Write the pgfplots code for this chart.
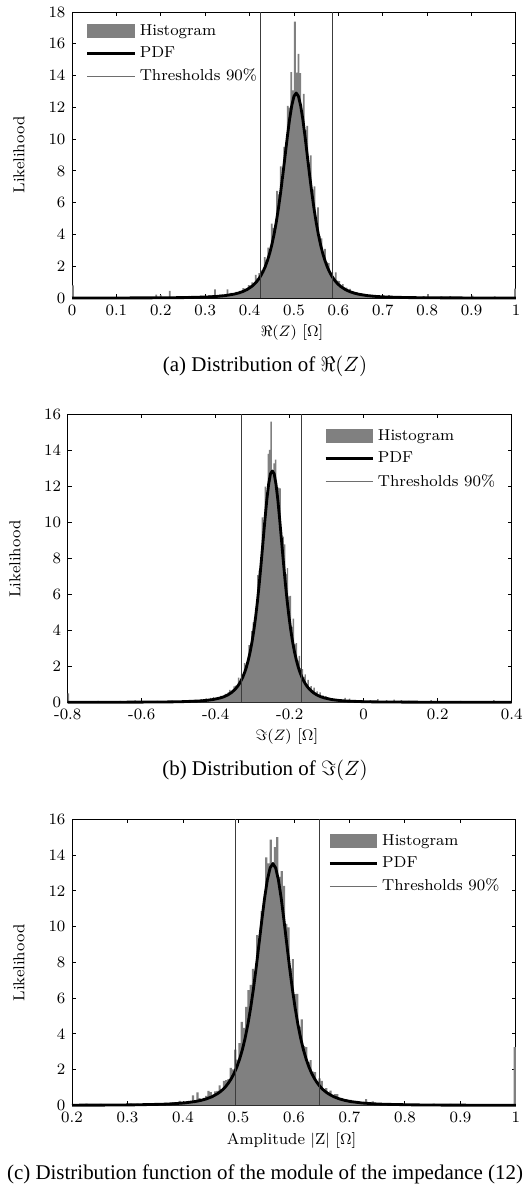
\documentclass[border=0pt]{standalone}
\usepackage{fontspec}
\usepackage{pgfplots}
\pgfplotsset{compat=1.18}
\newfontfamily\capfont{Liberation Serif}
\definecolor{histgray}{RGB}{128,128,128}
\definecolor{thrgray}{RGB}{60,60,60}
\definecolor{thrleg}{RGB}{110,110,110}
\newcommand{\smallf}{\fontsize{8.4}{10}\selectfont}
\newcommand{\capf}{\capfont\fontsize{11.1}{13}\selectfont}

\pgfplotsset{
  myaxis/.style={
    scale only axis, width=235.3pt, height=151.6pt,
    axis line style={line width=0.5pt},
    tick style={line width=0.5pt, black},
    major tick length=2.2pt,
    tick align=inside,
    tick label style={font=\smallf},
    /pgf/number format/assume math mode=true,
    clip=false,
    legend cell align=left,
    legend style={draw=none, fill=none, font=\smallf, row sep=0.6pt},
  },
  histstyle/.style={const plot, fill=histgray, draw=none,
    legend image code/.code={\fill[histgray] (0pt,-3.8pt) rectangle (25pt,3.8pt);}},
  pdfstyle/.style={black, line width=1.5pt, line join=round,
    legend image code/.code={\draw[black, line width=1.5pt] (0pt,0pt) -- (25pt,0pt);}},
  thrstyle/.style={thrgray, line width=0.5pt,
    legend image code/.code={\draw[thrleg, line width=0.6pt] (0pt,0pt) -- (25pt,0pt);}},
}

\pgfplotstableread{
x y
0.000 0.80
0.004 0.00
0.188 0.22
0.192 0.00
0.198 0.18
0.202 0.00
0.218 0.45
0.222 0.00
0.250 0.10
0.254 0.04
0.262 0.14
0.266 0.05
0.276 0.12
0.280 0.06
0.288 0.13
0.292 0.07
0.300 0.11
0.308 0.16
0.316 0.12
0.320 0.55
0.324 0.15
0.332 0.22
0.340 0.18
0.348 0.55
0.352 0.25
0.356 0.32
0.360 0.29
0.364 0.27
0.368 0.39
0.372 0.35
0.376 0.45
0.380 0.37
0.384 0.62
0.388 0.57
0.392 0.57
0.396 0.82
0.400 0.78
0.404 0.98
0.408 0.87
0.412 1.46
0.416 1.23
0.420 1.56
0.424 1.74
0.428 1.67
0.432 2.57
0.436 2.38
0.440 3.17
0.444 2.73
0.448 4.68
0.452 4.42
0.456 4.59
0.460 6.74
0.464 6.52
0.468 8.28
0.472 7.38
0.476 9.52
0.480 9.65
0.484 12.09
0.488 11.98
0.492 14.21
0.496 13.06
0.500 17.40
0.504 14.18
0.508 15.37
0.512 14.16
0.516 11.75
0.520 12.84
0.524 10.57
0.528 10.84
0.532 8.47
0.536 8.98
0.540 6.82
0.544 7.03
0.548 4.93
0.552 5.70
0.556 3.91
0.560 3.76
0.564 2.72
0.568 3.09
0.572 2.26
0.576 2.20
0.580 1.51
0.584 1.63
0.588 1.22
0.592 1.61
0.596 1.09
0.600 1.06
0.604 0.77
0.608 0.87
0.612 0.64
0.616 0.66
0.620 0.46
0.624 0.58
0.628 0.41
0.632 0.41
0.636 0.31
0.640 0.35
0.644 0.24
0.648 0.31
0.652 0.21
0.656 0.24
0.660 0.16
0.664 0.22
0.668 0.15
0.672 0.17
0.676 0.13
0.680 0.12
0.690 0.10
0.700 0.15
0.704 0.08
0.712 0.18
0.716 0.06
0.724 0.12
0.730 0.05
0.740 0.10
0.748 0.04
0.760 0.08
0.764 0.02
0.790 0.12
0.794 0.02
0.800 0.25
0.804 0.02
0.830 0.10
0.834 0.00
0.850 0.12
0.854 0.00
0.880 0.08
0.884 0.00
0.900 0.15
0.904 0.00
0.950 0.10
0.954 0.00
0.996 0.60
1.000 0.60
}\histA

\pgfplotstableread{
x y
0 0.002
0.105 0.005
0.205 0.015
0.255 0.029
0.305 0.068
0.325 0.100
0.345 0.153
0.365 0.245
0.375 0.315
0.385 0.411
0.395 0.545
0.405 0.733
0.41 0.855
0.415 1.00
0.42 1.18
0.425 1.39
0.43 1.65
0.435 1.96
0.44 2.34
0.445 2.79
0.45 3.34
0.455 3.99
0.46 4.76
0.465 5.65
0.47 6.66
0.475 7.78
0.48 8.96
0.485 10.14
0.49 11.23
0.495 12.11
0.5 12.70
0.505 12.90
0.51 12.70
0.515 12.11
0.52 11.23
0.525 10.14
0.53 8.96
0.535 7.78
0.54 6.66
0.545 5.65
0.55 4.76
0.555 3.99
0.56 3.34
0.565 2.79
0.57 2.34
0.575 1.96
0.58 1.65
0.585 1.39
0.59 1.18
0.595 1.00
0.6 0.855
0.605 0.733
0.615 0.545
0.625 0.411
0.635 0.315
0.645 0.245
0.665 0.153
0.685 0.100
0.705 0.068
0.755 0.029
0.805 0.015
0.905 0.005
1 0.002
}\pdfA

\pgfplotstableread{
x y
-0.800 0.50
-0.796 0.00
-0.720 0.08
-0.716 0.00
-0.660 0.08
-0.656 0.00
-0.620 0.10
-0.616 0.00
-0.560 0.08
-0.556 0.02
-0.520 0.09
-0.516 0.03
-0.480 0.10
-0.476 0.05
-0.460 0.14
-0.456 0.06
-0.440 0.18
-0.436 0.08
-0.428 0.22
-0.424 0.10
-0.416 0.25
-0.412 0.15
-0.408 0.28
-0.404 0.18
-0.400 0.21
-0.396 0.28
-0.392 0.23
-0.388 0.36
-0.384 0.33
-0.380 0.33
-0.376 0.47
-0.372 0.38
-0.368 0.55
-0.364 0.69
-0.360 0.60
-0.356 0.63
-0.352 0.88
-0.348 0.93
-0.344 0.82
-0.340 1.37
-0.336 1.12
-0.332 1.55
-0.328 1.36
-0.324 2.18
-0.320 2.08
-0.316 2.16
-0.312 3.17
-0.308 2.64
-0.304 3.96
-0.300 4.44
-0.296 4.63
-0.292 5.05
-0.288 7.07
-0.284 7.33
-0.280 7.48
-0.276 10.27
-0.272 9.86
-0.268 11.98
-0.264 11.49
-0.260 13.81
-0.256 14.03
-0.252 15.60
-0.248 12.90
-0.244 13.27
-0.240 13.49
-0.236 11.88
-0.232 11.93
-0.228 11.89
-0.224 9.14
-0.220 9.21
-0.216 8.77
-0.212 7.14
-0.208 7.45
-0.204 5.88
-0.200 5.91
-0.196 4.19
-0.192 4.65
-0.188 3.22
-0.184 3.29
-0.180 2.32
-0.176 2.58
-0.172 1.90
-0.168 1.84
-0.164 1.41
-0.160 1.55
-0.156 1.01
-0.152 1.25
-0.148 0.83
-0.144 0.90
-0.140 0.69
-0.136 0.81
-0.132 0.52
-0.128 0.60
-0.124 0.40
-0.120 0.55
-0.116 0.34
-0.112 0.38
-0.108 0.25
-0.104 0.34
-0.100 0.23
-0.096 0.26
-0.092 0.18
-0.088 0.23
-0.084 0.16
-0.080 0.15
-0.072 0.12
-0.064 0.16
-0.060 0.06
-0.052 0.25
-0.048 0.06
-0.040 0.20
-0.036 0.05
-0.020 0.10
-0.016 0.03
0.000 0.08
0.004 0.03
0.016 0.12
0.020 0.03
0.036 0.18
0.040 0.04
0.060 0.12
0.064 0.02
0.080 0.15
0.084 0.02
0.100 0.12
0.104 0.02
0.120 0.08
0.124 0.00
0.180 0.12
0.184 0.00
0.260 0.08
0.264 0.00
0.350 0.12
0.354 0.00
0.400 0.00
}\histB

\pgfplotstableread{
x y
-0.8 0.002
-0.647 0.005
-0.547 0.015
-0.497 0.029
-0.447 0.068
-0.427 0.100
-0.407 0.153
-0.387 0.245
-0.377 0.315
-0.367 0.411
-0.357 0.545
-0.347 0.733
-0.342 0.855
-0.337 1.00
-0.332 1.18
-0.327 1.39
-0.322 1.65
-0.317 1.96
-0.312 2.34
-0.307 2.79
-0.302 3.34
-0.297 3.99
-0.292 4.76
-0.287 5.65
-0.282 6.66
-0.277 7.78
-0.272 8.96
-0.267 10.14
-0.262 11.23
-0.257 12.11
-0.252 12.70
-0.247 12.85
-0.242 12.70
-0.237 12.11
-0.232 11.23
-0.227 10.14
-0.222 8.96
-0.217 7.78
-0.212 6.66
-0.207 5.65
-0.202 4.76
-0.197 3.99
-0.192 3.34
-0.187 2.79
-0.182 2.34
-0.177 1.96
-0.172 1.65
-0.167 1.39
-0.162 1.18
-0.157 1.00
-0.152 0.855
-0.147 0.733
-0.137 0.545
-0.127 0.411
-0.117 0.315
-0.107 0.245
-0.087 0.153
-0.067 0.100
-0.047 0.068
0.003 0.029
0.053 0.015
0.153 0.005
0.253 0.002
0.4 0.001
}\pdfB

\pgfplotstableread{
x y
0.200 0.00
0.224 0.10
0.228 0.00
0.250 0.08
0.254 0.00
0.300 0.06
0.304 0.10
0.308 0.03
0.316 0.10
0.320 0.05
0.330 0.12
0.334 0.04
0.344 0.10
0.348 0.04
0.360 0.08
0.368 0.14
0.372 0.06
0.380 0.18
0.384 0.10
0.392 0.25
0.396 0.12
0.400 0.20
0.404 0.10
0.408 0.22
0.412 0.15
0.416 0.55
0.420 0.29
0.424 0.72
0.428 0.40
0.432 0.32
0.436 0.41
0.440 0.53
0.444 0.80
0.448 0.73
0.452 0.58
0.456 0.78
0.460 0.80
0.464 1.12
0.468 0.89
0.472 1.36
0.476 1.41
0.480 1.46
0.484 2.09
0.488 2.01
0.492 3.11
0.496 2.55
0.500 3.48
0.504 4.66
0.508 4.33
0.512 5.50
0.516 6.44
0.520 6.74
0.524 7.63
0.528 7.32
0.532 9.52
0.536 9.27
0.540 10.86
0.544 11.31
0.548 13.87
0.552 13.53
0.556 14.86
0.560 13.60
0.564 14.44
0.568 15.00
0.572 12.78
0.576 13.10
0.580 12.28
0.584 10.15
0.588 9.95
0.592 7.66
0.596 8.17
0.600 6.22
0.604 6.23
0.608 4.38
0.612 4.81
0.616 3.31
0.620 3.25
0.624 2.40
0.628 2.53
0.632 1.89
0.636 1.86
0.640 1.32
0.644 1.50
0.648 1.37
0.652 0.90
0.656 0.96
0.660 0.73
0.664 0.82
0.668 0.51
0.672 0.62
0.676 0.62
0.680 0.39
0.684 0.40
0.688 0.29
0.692 0.34
0.696 0.27
0.700 0.30
0.704 0.21
0.708 0.23
0.712 0.16
0.716 0.18
0.720 0.12
0.728 0.35
0.732 0.08
0.740 0.22
0.744 0.05
0.752 0.10
0.760 0.04
0.770 0.12
0.774 0.02
0.784 0.10
0.788 0.02
0.800 0.08
0.804 0.00
0.850 0.10
0.854 0.00
0.880 0.08
0.884 0.00
0.940 0.06
0.944 0.00
0.996 3.25
1.000 3.25
}\histC

\pgfplotstableread{
x y
0.2 0.006
0.262 0.012
0.312 0.025
0.362 0.058
0.382 0.085
0.402 0.131
0.422 0.210
0.432 0.272
0.442 0.357
0.452 0.475
0.462 0.644
0.467 0.755
0.472 0.888
0.477 1.05
0.482 1.25
0.487 1.49
0.492 1.78
0.497 2.14
0.502 2.58
0.507 3.11
0.512 3.76
0.517 4.54
0.522 5.46
0.527 6.53
0.532 7.73
0.537 9.03
0.542 10.34
0.547 11.58
0.552 12.60
0.557 13.28
0.562 13.52
0.567 13.28
0.572 12.60
0.577 11.58
0.582 10.34
0.587 9.03
0.592 7.73
0.597 6.53
0.602 5.46
0.607 4.54
0.612 3.76
0.617 3.11
0.622 2.58
0.627 2.14
0.632 1.78
0.637 1.49
0.642 1.25
0.647 1.05
0.652 0.888
0.657 0.755
0.662 0.644
0.672 0.475
0.682 0.357
0.692 0.272
0.702 0.210
0.722 0.131
0.742 0.085
0.762 0.058
0.812 0.025
0.862 0.012
0.922 0.006
1 0.003
}\pdfC

\begin{document}
\begin{tikzpicture}
\path[use as bounding box] (0,0) rectangle (278.78pt,-628.58pt);

% ---------------- (a)
\begin{axis}[myaxis, at={(38.16pt,-6.36pt)}, anchor=north west,
  xmin=0, xmax=1, ymin=0, ymax=18,
  xtick={0,0.1,0.2,0.3,0.4,0.5,0.6,0.7,0.8,0.9,1},
  ytick={0,2,4,6,8,10,12,14,16,18},
  legend style={at={(0.018,0.985)}, anchor=north west}]
\addplot[histstyle] table {\histA} \closedcycle;
\addplot[pdfstyle] table {\pdfA};
\addplot[thrstyle] coordinates {(0.424,0) (0.424,18)};
\addplot[thrstyle, forget plot] coordinates {(0.586,0) (0.586,18)};
\legend{Histogram, PDF, Thresholds 90\%}
\end{axis}

% ---------------- (b)
\begin{axis}[myaxis, height=152.6pt, at={(35.9pt,-219.6pt)}, anchor=north west,
  xmin=-0.8, xmax=0.4, ymin=0, ymax=16,
  xtick={-0.8,-0.6,-0.4,-0.2,0,0.2,0.4},
  xticklabels={{-0.8},{-0.6},{-0.4},{-0.2},0,0.2,0.4},
  ytick={0,2,4,6,8,10,12,14,16},
  legend style={at={(0.564,0.975)}, anchor=north west}]
\addplot[histstyle] table {\histB} \closedcycle;
\addplot[pdfstyle] table {\pdfB};
\addplot[thrstyle] coordinates {(-0.330,0) (-0.330,16)};
\addplot[thrstyle, forget plot] coordinates {(-0.168,0) (-0.168,16)};
\legend{Histogram, PDF, Thresholds 90\%}
\end{axis}

% ---------------- (c)
\begin{axis}[myaxis, at={(38.16pt,-434.2pt)}, anchor=north west,
  xmin=0.2, xmax=1, ymin=0, ymax=16,
  xtick={0.2,0.3,0.4,0.5,0.6,0.7,0.8,0.9,1},
  ytick={0,2,4,6,8,10,12,14,16},
  legend style={at={(0.564,0.975)}, anchor=north west}]
\addplot[histstyle] table {\histC} \closedcycle;
\addplot[pdfstyle] table {\pdfC};
\addplot[thrstyle] coordinates {(0.494,0) (0.494,16)};
\addplot[thrstyle, forget plot] coordinates {(0.646,0) (0.646,16)};
\legend{Histogram, PDF, Thresholds 90\%}
\end{axis}

% labels
\node[font=\smallf, rotate=90] at (10.07pt,-82.15pt) {Likelihood};
\node[font=\smallf] at (154.8pt,-176.5pt) {$\Re(Z)$ [$\Omega$]};
\node[font=\capf] at (140.45pt,-193.98pt) {(a) Distribution of $\Re(Z)$};

\node[font=\smallf, rotate=90] at (7.95pt,-296.3pt) {Likelihood};
\node[font=\smallf] at (152.1pt,-390.1pt) {$\Im(Z)$ [$\Omega$]};
\node[font=\capf] at (140.45pt,-408.1pt) {(b) Distribution of $\Im(Z)$};

\node[font=\smallf, rotate=90] at (10.07pt,-510.4pt) {Likelihood};
\node[font=\smallf] at (154.6pt,-604.7pt) {Amplitude $|$Z$|$ [$\Omega$]};
\node[font=\capf] at (140.45pt,-622.2pt) {(c) Distribution function of the module of the impedance (12)};
\end{tikzpicture}
\end{document}
